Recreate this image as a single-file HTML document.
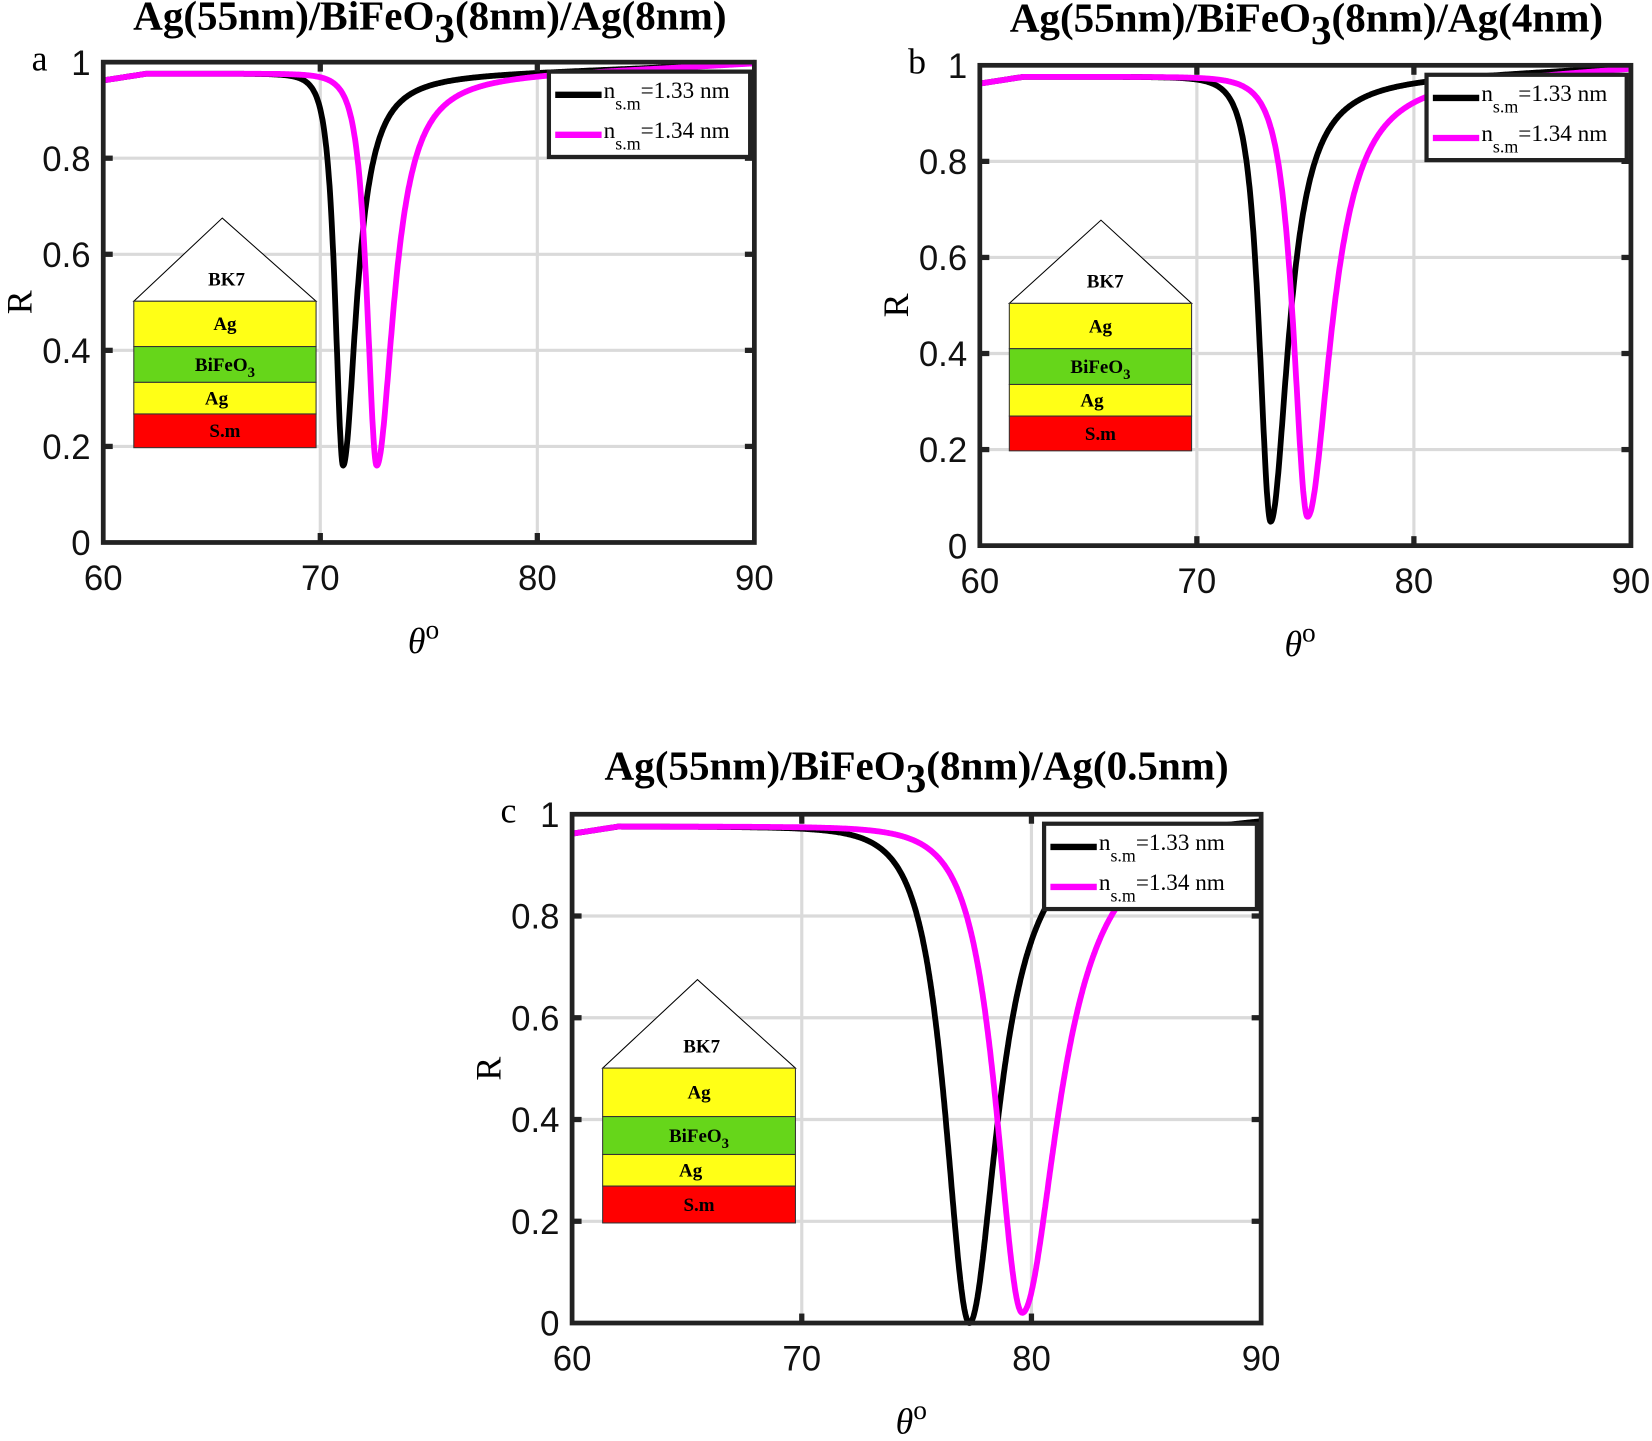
<!DOCTYPE html>
<html><head><meta charset="utf-8"><style>
html,body{margin:0;padding:0;background:#fff;}
svg{display:block;}
.tk{font-family:"Liberation Sans",sans-serif;font-size:33px;fill:#111;}
.ti{font-family:"Liberation Serif",serif;font-weight:bold;font-size:39px;fill:#000;}
.lg{font-family:"Liberation Serif",serif;font-size:22px;fill:#000;}
.ins{font-family:"Liberation Serif",serif;font-weight:bold;font-size:18px;fill:#000;}
.ax{font-family:"Liberation Serif",serif;font-size:34px;fill:#000;}
</style></head><body>
<svg id="s" width="1652" height="1441" viewBox="0 0 1568 1368" preserveAspectRatio="none" xmlns="http://www.w3.org/2000/svg"></svg>
<script>
var S=document.getElementById('s');var h='';
function panel(o){
 var L=o.L,R=o.R,T=o.T,B=o.B;
 var X=function(t){return L+(t-60)/30*(R-L);},Y=function(r){return B-r*(B-T);};
 [70,80].forEach(function(t){h+='<line x1="'+X(t)+'" y1="'+T+'" x2="'+X(t)+'" y2="'+B+'" stroke="#dadada" stroke-width="3"/>';});
 [0.2,0.4,0.6,0.8].forEach(function(r){h+='<line x1="'+L+'" y1="'+Y(r)+'" x2="'+R+'" y2="'+Y(r)+'" stroke="#dadada" stroke-width="3"/>';});
 o.c.forEach(function(c){
  var p='';
  for(var i=0;i<=1200;i++){var t=60+30*i/1200;
   var base=0.976+0.024*Math.pow((t-60)/30,3);
   if(t<62){base=0.962+0.014*(t-60)/2;}
   var g=t<c.t0?c.gl:c.gr;var d=base-c.m;var x=(t-c.t0)/g;
   var f=t<c.t0?1/(1+x*x*(1+0.15*x*x)):1/(1+x*x);
   var r=base-d*f;
   p+=(i?'L':'M')+X(t).toFixed(1)+','+Y(r).toFixed(1);}
  h+='<path d="'+p+'" fill="none" stroke="'+c.col+'" stroke-width="5.5" stroke-linejoin="round"/>';
 });
 var n=o.ins;
 h+='<polygon points="'+n.x0+','+n.yb+' '+n.ax+','+n.ay+' '+n.x1+','+n.yb+'" fill="#fff" stroke="#000" stroke-width="1"/>';
 var cols=['#ffff16','#66d61a','#ffff16','#ff0000'],lab=['Ag','BiFeO','Ag','S.m'];
 for(var k=0;k<4;k++){var y0=n.ys[k],y1=n.ys[k+1];
  h+='<rect x="'+n.x0+'" y="'+y0+'" width="'+(n.x1-n.x0)+'" height="'+(y1-y0)+'" fill="'+cols[k]+'" stroke="#333" stroke-width="1"/>';
  var cx=(n.x0+n.x1)/2-(k==2?8:0);
  h+='<text class="ins" x="'+cx+'" y="'+((y0+y1)/2+6)+'" text-anchor="middle">'+lab[k]+(k==1?'<tspan dy="6" font-size="14">3</tspan>':'')+'</text>';}
 h+='<text class="ins" x="'+(n.ax+4)+'" y="'+(n.yb-15)+'" text-anchor="middle">BK7</text>';
 h+='<rect x="'+L+'" y="'+T+'" width="'+(R-L)+'" height="'+(B-T)+'" fill="none" stroke="#222" stroke-width="4.5"/>';
 [70,80].forEach(function(t){h+='<line x1="'+X(t)+'" y1="'+B+'" x2="'+X(t)+'" y2="'+(B-9)+'" stroke="#222" stroke-width="5"/><line x1="'+X(t)+'" y1="'+T+'" x2="'+X(t)+'" y2="'+(T+9)+'" stroke="#222" stroke-width="5"/>';});
 [0.2,0.4,0.6,0.8].forEach(function(r){h+='<line x1="'+L+'" y1="'+Y(r)+'" x2="'+(L+9)+'" y2="'+Y(r)+'" stroke="#222" stroke-width="5"/><line x1="'+R+'" y1="'+Y(r)+'" x2="'+(R-9)+'" y2="'+Y(r)+'" stroke="#222" stroke-width="5"/>';});
 [60,70,80,90].forEach(function(t){h+='<text class="tk" x="'+X(t)+'" y="'+(B+45)+'" text-anchor="middle">'+t+'</text>';});
 ['0','0.2','0.4','0.6','0.8','1'].forEach(function(s,i){h+='<text class="tk" x="'+(L-12)+'" y="'+(Y(i*0.2)+12)+'" text-anchor="end">'+s+'</text>';});
 h+='<text class="ax" x="'+(L-78)+'" y="'+((T+B)/2+10)+'" transform="rotate(-90 '+(L-78)+' '+((T+B)/2)+')" text-anchor="middle">R</text>';
 h+='<text class="ax" x="'+((L+R)/2-5)+'" y="'+(B+105)+'" font-style="italic" text-anchor="middle">θ<tspan dy="-14" font-size="26" font-style="normal">o</tspan></text>';
 h+='<text class="ax" x="'+(L-68)+'" y="'+(T+8)+'" font-size="32">'+o.letter+'</text>';
 h+='<text class="ti" x="'+o.tx+'" y="'+o.ty+'" text-anchor="middle">Ag(55nm)/BiFeO<tspan dy="12">3</tspan><tspan dy="-12">(8nm)/Ag('+o.tt+')</tspan></text>';
 var lx=o.lx,ly=T+9,lw=R-4-lx;
 h+='<rect x="'+lx+'" y="'+ly+'" width="'+lw+'" height="81" fill="#fff" stroke="#222" stroke-width="4"/>';
 [['#000','1.33'],['#ff00ff','1.34']].forEach(function(e,i){var yy=ly+22+i*38;
  h+='<line x1="'+(lx+6)+'" y1="'+yy+'" x2="'+(lx+50)+'" y2="'+yy+'" stroke="'+e[0]+'" stroke-width="6"/>';
  h+='<text class="lg" x="'+(lx+52)+'" y="'+(yy+3)+'">n<tspan dy="11" font-size="17">s.m</tspan><tspan dy="-11">='+e[1]+' nm</tspan></text>';});
}
panel({L:98,R:716,T:59,B:515,letter:'a',tx:408,ty:28,tt:'8nm',lx:521,
 c:[{col:'#000',t0:71.05,m:0.16,gl:0.45,gr:0.75},{col:'#ff00ff',t0:72.6,m:0.16,gl:0.55,gr:0.95}],
 ins:{x0:127,x1:300,ax:211,ay:207,yb:286,ys:[286,329,363,393,425]}});
panel({L:930,R:1548,T:62,B:518,letter:'b',tx:1240,ty:30,tt:'4nm',lx:1354,
 c:[{col:'#000',t0:73.4,m:0.05,gl:0.65,gr:1.0},{col:'#ff00ff',t0:75.1,m:0.06,gl:0.8,gr:1.3}],
 ins:{x0:958,x1:1131,ax:1045,ay:209,yb:288,ys:[288,331,365,395,428]}});
panel({L:543,R:1197,T:773,B:1256,letter:'c',tx:870,ty:740,tt:'0.5nm',lx:991,
 c:[{col:'#000',t0:77.3,m:0.0,gl:1.3,gr:1.5},{col:'#ff00ff',t0:79.6,m:0.02,gl:1.4,gr:1.9}],
 ins:{x0:572,x1:755,ax:662,ay:930,yb:1014,ys:[1014,1060,1096,1126,1161]}});
S.innerHTML=h;
</script>
</body></html>
